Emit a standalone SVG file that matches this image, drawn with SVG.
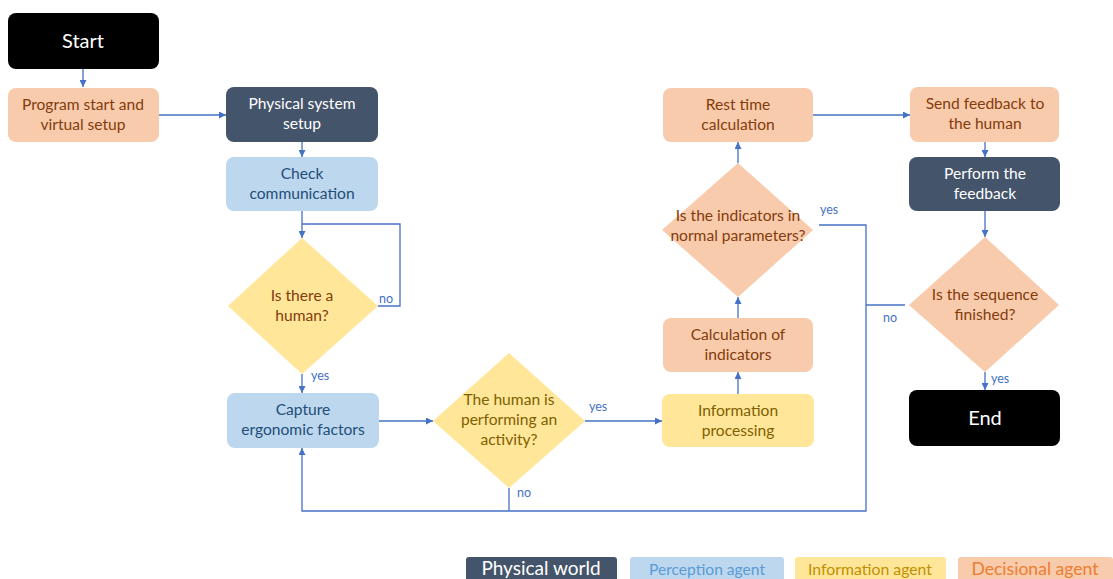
<svg xmlns="http://www.w3.org/2000/svg" width="1113" height="579" viewBox="0 0 1113 579">
  <style>
    text { font-family: Lato, "Open Sans", "Liberation Sans", sans-serif; text-anchor: middle; }
    .lbl { font-size: 15.6px; }
    .term { fill: #000000; }
    .phys { fill: #44546A; }
    .perc { fill: #BDD7EE; }
    .info { fill: #FFE699; }
    .dec { fill: #F8CBAD; }
    .t-white { fill: #FFFFFF; }
    .t-dec { fill: #843C0C; }
    .t-perc { fill: #1F4E79; }
    .t-info { fill: #7F6000; }
    .edge { fill: none; stroke: #4472C4; stroke-width: 1.3; }
    .elbl { font-size: 12.5px; fill: #4472C4; text-anchor: start; }
  </style>
  <defs>
    <marker id="arr" viewBox="0 0 10 10" refX="10" refY="5" markerWidth="7" markerHeight="7" markerUnits="userSpaceOnUse" orient="auto">
      <path d="M0,0 L10,5 L0,10 z" fill="#4472C4"/>
    </marker>
  </defs>
  <rect width="1113" height="579" fill="#FFFFFF"/>

  <!-- connectors -->
  <g id="connectors">
    <path class="edge" d="M83,69 V87" marker-end="url(#arr)"/>
    <path class="edge" d="M159,115 H226" marker-end="url(#arr)"/>
    <path class="edge" d="M302,142 V157" marker-end="url(#arr)"/>
    <path class="edge" d="M302,211 V238" marker-end="url(#arr)"/>
    <path class="edge" d="M378,306 H400 V224 H302"/>
    <path class="edge" d="M302,374 V393" marker-end="url(#arr)"/>
    <path class="edge" d="M379,421 H433" marker-end="url(#arr)"/>
    <path class="edge" d="M585,421 H662" marker-end="url(#arr)"/>
    <path class="edge" d="M738,394 V372" marker-end="url(#arr)"/>
    <path class="edge" d="M738,318 V297" marker-end="url(#arr)"/>
    <path class="edge" d="M738,163 V142" marker-end="url(#arr)"/>
    <path class="edge" d="M813,115 H910" marker-end="url(#arr)"/>
    <path class="edge" d="M985,142 V157" marker-end="url(#arr)"/>
    <path class="edge" d="M985,211 V237" marker-end="url(#arr)"/>
    <path class="edge" d="M985,372 V390" marker-end="url(#arr)"/>
    <path class="edge" d="M819,225 H866 V511 H302 V448" marker-end="url(#arr)"/>
    <path class="edge" d="M905,305 H866"/>
    <path class="edge" d="M509,488 V511"/>
    <text class="elbl" x="379" y="303">no</text>
    <text class="elbl" x="311" y="380">yes</text>
    <text class="elbl" x="589" y="411">yes</text>
    <text class="elbl" x="517" y="497">no</text>
    <text class="elbl" x="820" y="214">yes</text>
    <text class="elbl" x="883" y="322">no</text>
    <text class="elbl" x="991" y="383">yes</text>
  </g>

  <g id="start">
    <rect class="term" x="8" y="13" width="151" height="56" rx="8"/>
    <text class="t-white" x="83" y="48" font-size="20">Start</text>
  </g>

  <g id="program-start">
    <rect class="dec" x="8" y="88" width="151" height="54" rx="8"/>
    <text class="lbl t-dec" x="83" y="110">Program start and</text>
    <text class="lbl t-dec" x="83" y="130">virtual setup</text>
  </g>

  <g id="physical-setup">
    <rect class="phys" x="226" y="87" width="152" height="55" rx="8"/>
    <text class="lbl t-white" x="302" y="109">Physical system</text>
    <text class="lbl t-white" x="302" y="129">setup</text>
  </g>

  <g id="check-communication">
    <rect class="perc" x="226" y="157" width="152" height="54" rx="8"/>
    <text class="lbl t-perc" x="302" y="179">Check</text>
    <text class="lbl t-perc" x="302" y="199">communication</text>
  </g>

  <g id="human-present">
    <polygon class="info" points="302,238 378,306 302,374 228,306"/>
    <text class="lbl t-dec" x="302" y="301">Is there a</text>
    <text class="lbl t-dec" x="302" y="321">human?</text>
  </g>

  <g id="capture-factors">
    <rect class="perc" x="227" y="393" width="152" height="55" rx="8"/>
    <text class="lbl t-perc" x="303" y="415">Capture</text>
    <text class="lbl t-perc" x="303" y="435">ergonomic factors</text>
  </g>

  <g id="performing-activity">
    <polygon class="info" points="509,353 585,421 509,488 433,421"/>
    <text class="lbl t-info" x="509" y="405">The human is</text>
    <text class="lbl t-info" x="509" y="425">performing an</text>
    <text class="lbl t-info" x="509" y="445">activity?</text>
  </g>

  <g id="information-processing">
    <rect class="info" x="662" y="394" width="152" height="53" rx="8"/>
    <text class="lbl t-info" x="738" y="416">Information</text>
    <text class="lbl t-info" x="738" y="436">processing</text>
  </g>

  <g id="calculation-indicators">
    <rect class="dec" x="663" y="318" width="150" height="54" rx="8"/>
    <text class="lbl t-dec" x="738" y="340">Calculation of</text>
    <text class="lbl t-dec" x="738" y="360">indicators</text>
  </g>

  <g id="indicators-normal">
    <polygon class="dec" points="738,163 813,230 738,297 662,230"/>
    <text class="lbl t-dec" x="738" y="221">Is the indicators in</text>
    <text class="lbl t-dec" x="738" y="241">normal parameters?</text>
  </g>

  <g id="rest-time">
    <rect class="dec" x="663" y="88" width="150" height="54" rx="8"/>
    <text class="lbl t-dec" x="738" y="110">Rest time</text>
    <text class="lbl t-dec" x="738" y="130">calculation</text>
  </g>

  <g id="send-feedback">
    <rect class="dec" x="910" y="87" width="149" height="55" rx="8"/>
    <text class="lbl t-dec" x="985" y="109">Send feedback to</text>
    <text class="lbl t-dec" x="985" y="129">the human</text>
  </g>

  <g id="perform-feedback">
    <rect class="phys" x="909" y="157" width="151" height="54" rx="8"/>
    <text class="lbl t-white" x="985" y="179">Perform the</text>
    <text class="lbl t-white" x="985" y="199">feedback</text>
  </g>

  <g id="sequence-finished">
    <polygon class="dec" points="985,237 1059,305 985,372 909,305"/>
    <text class="lbl t-dec" x="985" y="300">Is the sequence</text>
    <text class="lbl t-dec" x="985" y="320">finished?</text>
  </g>

  <g id="end">
    <rect class="term" x="909" y="390" width="151" height="56" rx="8"/>
    <text class="t-white" x="985" y="425" font-size="20">End</text>
  </g>

  <!-- legend -->
  <g id="legend">
    <rect class="phys" x="466" y="557" width="151" height="30" rx="3"/>
    <text x="541" y="575" font-size="19" fill="#FFFFFF">Physical world</text>
    <rect class="perc" x="630" y="557" width="154" height="30" rx="3"/>
    <text x="707" y="575" font-size="15.6" fill="#5B9BD5">Perception agent</text>
    <rect class="info" x="795" y="557" width="151" height="30" rx="3"/>
    <text x="870" y="575" font-size="15.8" fill="#BF9000">Information agent</text>
    <rect class="dec" x="958" y="557" width="155" height="30" rx="3"/>
    <text x="1035" y="575" font-size="17.6" fill="#ED7D31">Decisional agent</text>
  </g>
</svg>
